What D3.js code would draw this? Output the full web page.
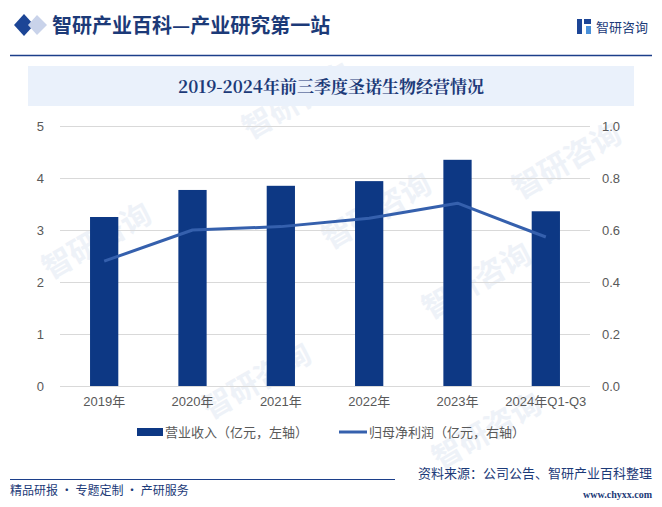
<!DOCTYPE html>
<html><head><meta charset="utf-8">
<script src="https://cdn.jsdelivr.net/npm/d3@7"></script>
<style>body{margin:0;background:#fff}svg{display:block}</style>
</head><body>
<script>
const categories = ["2019年","2020年","2021年","2022年","2023年","2024年Q1-Q3"];
const revenue = [3.25, 3.77, 3.85, 3.94, 4.35, 3.36];
const netProfit = [0.48, 0.60, 0.613, 0.645, 0.703, 0.573];
const leftTicks = [0,1,2,3,4,5];
const rightTicks = [0,0.2,0.4,0.6,0.8,1.0];
const title = "2019-2024年前三季度圣诺生物经营情况";
const legendLabels = ["营业收入（亿元，左轴）","归母净利润（亿元，右轴）"];

const W=662,H=507;
const svg=d3.select("body").append("svg").attr("width",W).attr("height",H);
const font="'Noto Sans CJK SC','Noto Sans',sans-serif";
const navy="#0d3884";

// faint watermarks
const wm=svg.append("g").attr("fill","#eef2f8").attr("font-family",font).attr("font-size",30).attr("font-weight","bold");
[[50,280],[250,140],[210,420],[430,320],[520,200],[440,470],[330,250]].forEach(([x,y])=>{
  wm.append("text").attr("transform",`translate(${x},${y}) rotate(-30)`).text("智研咨询");
});

// header
svg.append("path").attr("d","M14,25 L24,14 L34,25 L24,36Z").attr("fill","#1c4596");
svg.append("path").attr("d","M28,25 L37,15 L47,25 L37,35Z").attr("fill","#c9d3ea");
svg.append("text").attr("x",52).attr("y",33).attr("font-family",font).attr("font-size",20).attr("font-weight","bold").attr("fill","#1c3a78").text("智研产业百科—产业研究第一站");
svg.append("line").attr("x1",10).attr("x2",652).attr("y1",55.5).attr("y2",55.5).attr("stroke","#1c3f8a").attr("stroke-width",1.5);
// logo
const lg=svg.append("g");
lg.append("rect").attr("x",577).attr("y",19).attr("width",5).attr("height",15).attr("fill","#1c4596");
lg.append("rect").attr("x",584).attr("y",19).attr("width",7).attr("height",5).attr("fill","#1c4596");
lg.append("rect").attr("x",586).attr("y",26).attr("width",5).attr("height",8).attr("fill","#4a90d9");
svg.append("text").attr("x",596).attr("y",32).attr("font-family",font).attr("font-size",13).attr("fill","#1c3a78").text("智研咨询");

// title band
svg.append("rect").attr("x",28).attr("y",66).attr("width",606).attr("height",40).attr("fill","#eaf1fb");
svg.append("text").attr("x",331).attr("y",93).attr("text-anchor","middle").attr("font-family","'Noto Serif CJK SC','Noto Sans CJK SC',serif").attr("font-size",17).attr("font-weight","bold").attr("fill","#1c3a78").text(title);

// scales
const x=d3.scaleBand().domain(categories).range([60,590]).paddingInner(0.68).paddingOuter(0.34);
const yL=d3.scaleLinear().domain([0,5]).range([386,126]);
const yR=d3.scaleLinear().domain([0,1]).range([386,126]);

// grid
svg.append("g").selectAll("line").data(leftTicks).join("line")
 .attr("x1",60).attr("x2",590).attr("y1",d=>Math.round(yL(d))+0.5).attr("y2",d=>Math.round(yL(d))+0.5)
 .attr("stroke","#d9d9d9").attr("stroke-width",1);

// axes
const axL=svg.append("g").attr("transform","translate(60,0)").call(d3.axisLeft(yL).tickValues(leftTicks).tickFormat(d3.format("d")).tickSize(0).tickPadding(16));
const axR=svg.append("g").attr("transform","translate(590,0)").call(d3.axisRight(yR).tickValues(rightTicks).tickFormat(d3.format(".1f")).tickSize(0).tickPadding(12));
const axB=svg.append("g").attr("transform","translate(0,386)").call(d3.axisBottom(x).tickSize(0).tickPadding(11));
[axL,axR,axB].forEach(a=>{a.select(".domain").remove();a.selectAll("text").attr("font-family","'Liberation Sans',Arial,'Noto Sans CJK SC',sans-serif").attr("font-size",13).attr("fill","#595959");});

// bars
svg.append("g").selectAll("rect").data(revenue).join("rect")
 .attr("x",(d,i)=>x(categories[i])).attr("width",x.bandwidth())
 .attr("y",d=>yL(d)).attr("height",d=>yL(0)-yL(d)).attr("fill",navy);

// line
const line=d3.line().x((d,i)=>x(categories[i])+x.bandwidth()/2).y(d=>yR(d));
svg.append("path").datum(netProfit).attr("d",line).attr("fill","none").attr("stroke","#3560ad").attr("stroke-width",3).attr("stroke-linejoin","round");

// legend
const leg=svg.append("g").attr("font-family",font).attr("font-size",13).attr("fill","#595959");
leg.append("rect").attr("x",137).attr("y",428).attr("width",26).attr("height",8).attr("fill",navy);
leg.append("text").attr("x",165).attr("y",437).text(legendLabels[0]);
leg.append("line").attr("x1",339).attr("x2",367).attr("y1",432).attr("y2",432).attr("stroke","#3560ad").attr("stroke-width",3);
leg.append("text").attr("x",369).attr("y",437).text(legendLabels[1]);

// footer
svg.append("line").attr("x1",10).attr("x2",395).attr("y1",479.5).attr("y2",479.5).attr("stroke","#1c3f8a").attr("stroke-width",1.2);
svg.append("text").attr("x",10).attr("y",495).attr("font-family",font).attr("font-size",12).attr("fill","#1c3a78").text("精品研报 · 专题定制 · 产研服务");
svg.append("text").attr("x",652).attr("y",478).attr("text-anchor","end").attr("font-family",font).attr("font-size",13).attr("fill","#1c3a78").text("资料来源：公司公告、智研产业百科整理");
svg.append("text").attr("x",652).attr("y",498).attr("text-anchor","end").attr("font-family","'Liberation Serif',serif").attr("font-size",10).attr("font-weight","bold").attr("fill","#1c3a78").text("www.chyxx.com");
</script>
</body></html>
